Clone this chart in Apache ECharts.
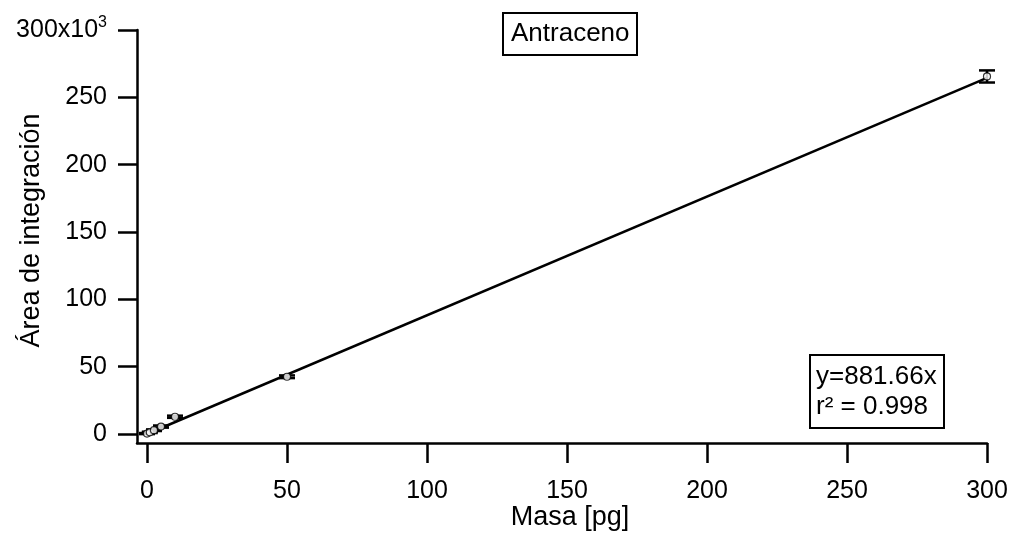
<!DOCTYPE html>
<html>
<head>
<meta charset="utf-8">
<script src="https://cdn.jsdelivr.net/npm/echarts@6/dist/echarts.min.js"></script>
<style>
  html, body { margin: 0; padding: 0; background: #fff; }
  #chart { width: 1013px; height: 533px; }
</style>
</head>
<body>
<div id="chart"></div>
<script>
// masa [pg] y área (x10^3)
const masa = [0, 1, 2.5, 5, 10, 50, 300]
const area = [0.3, 1.2, 2.8, 5.5, 12.8, 42.5, 265.5]
const areaErr = [0.4, 0.5, 0.6, 0.8, 0.8, 1.0, 4.5]
// recta de ajuste y = 881.66x
const fitX = [0, 300]
const fitY = [0, 264.5]
const xTicks = [0, 50, 100, 150, 200, 250, 300]
const yTicks = [0, 50, 100, 150, 200, 250, 300]

const font = 'Liberation Sans, Arial, sans-serif'
const chart = echarts.init(document.getElementById('chart'))

const option = {
  backgroundColor: '#fff',
  animation: false,
  textStyle: { fontFamily: font, color: '#000' },
  title: [
    {
      text: 'Antraceno',
      left: 503,
      top: 13,
      padding: [8, 8, 8, 8],
      borderColor: '#000',
      borderWidth: 2,
      textStyle: { fontFamily: font, fontSize: 26, fontWeight: 'normal', color: '#000' },
    },
    {
      text: 'y=881.66x\nr² = 0.998',
      left: 810,
      top: 355,
      padding: [7, 8, 6, 6],
      borderColor: '#000',
      borderWidth: 2,
      textStyle: { fontFamily: font, fontSize: 26, fontWeight: 'normal', color: '#000', lineHeight: 30 },
    },
  ],
  grid: { left: 137, right: 26, top: 30, bottom: 90, containLabel: false, outerBoundsMode: 'none' },
  xAxis: {
    type: 'value',
    min: -3.57,
    max: 300,
    name: 'Masa [pg]',
    nameLocation: 'middle',
    nameGap: 61,
    nameMoveOverlap: false,
    nameTextStyle: { fontFamily: font, fontSize: 27, color: '#000', padding: [0, 0, 0, 16] },
    axisLine: { show: true, onZero: false, lineStyle: { color: '#000', width: 2.5 } },
    axisTick: { show: true, inside: false, length: 20, lineStyle: { color: '#000', width: 2.5 }, customValues: xTicks },
    axisLabel: { fontFamily: font, fontSize: 25, color: '#000', margin: 36, customValues: xTicks },
    splitLine: { show: false },
  },
  yAxis: {
    type: 'value',
    min: -6.7,
    max: 300,
    name: 'Área de integración',
    nameLocation: 'middle',
    nameGap: 92,
    nameMoveOverlap: false,
    nameTextStyle: { fontFamily: font, fontSize: 27, color: '#000', padding: [0, 0, 0, 12] },
    axisLine: { show: true, onZero: false, lineStyle: { color: '#000', width: 2.5 } },
    axisTick: { show: true, inside: false, length: 19, lineStyle: { color: '#000', width: 2.5 }, customValues: yTicks },
    axisLabel: {
      fontFamily: font,
      fontSize: 25,
      color: '#000',
      margin: 30,
      customValues: yTicks,
      formatter: (v) => (v === 300 ? '300x10{sup|3}' : String(v)),
      rich: {
        sup: { fontFamily: font, fontSize: 16, color: '#000', verticalAlign: 'top', padding: [0, 0, 14, 0] },
      },
    },
    splitLine: { show: false },
  },
  series: [
    {
      type: 'line',
      data: fitX.map((x, i) => [x, fitY[i]]),
      symbol: 'none',
      lineStyle: { color: '#000', width: 2.5 },
      z: 2,
    },
    {
      type: 'custom',
      data: masa.map((x, i) => [x, area[i] - areaErr[i], area[i] + areaErr[i]]),
      renderItem: (params, api) => {
        const lo = api.coord([api.value(0), api.value(1)])
        const hi = api.coord([api.value(0), api.value(2)])
        const half = 8
        const style = { stroke: '#000', lineWidth: 2.5 }
        return {
          type: 'group',
          children: [
            { type: 'line', shape: { x1: lo[0], y1: lo[1], x2: hi[0], y2: hi[1] }, style },
            { type: 'line', shape: { x1: lo[0] - half, y1: lo[1], x2: lo[0] + half, y2: lo[1] }, style },
            { type: 'line', shape: { x1: hi[0] - half, y1: hi[1], x2: hi[0] + half, y2: hi[1] }, style },
          ],
        }
      },
      z: 3,
    },
    {
      type: 'scatter',
      data: masa.map((x, i) => [x, area[i]]),
      symbol: 'circle',
      symbolSize: 7,
      itemStyle: { color: '#fff', borderColor: '#000', borderWidth: 1.2 },
      z: 4,
    },
  ],
}
chart.setOption(option)
</script>
</body>
</html>
